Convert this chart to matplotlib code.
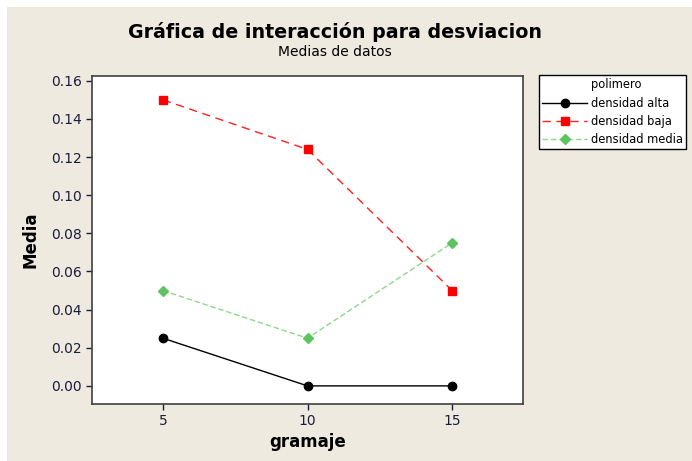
import numpy as np
import matplotlib.pyplot as plt
from matplotlib.patches import Rectangle
from matplotlib.lines import Line2D

gramaje = [5, 10, 15]
alta = [0.025, 0.0, 0.0]
baja = [0.150, 0.124, 0.050]
media = [0.050, 0.025, 0.075]
yticks = [0.00, 0.02, 0.04, 0.06, 0.08, 0.10, 0.12, 0.14, 0.16]

W, H = 692, 461
bg = '#eeeae0'
fig = plt.figure(figsize=(W/100., H/100.), dpi=100, facecolor='white')
fig.patches.append(Rectangle((7./W, -0.1), 2, (H-7.)/H + 0.1, transform=fig.transFigure,
                             facecolor=bg, edgecolor='none', zorder=-10))

ax = fig.add_axes([92./W, 1-404./H, (523-92.)/W, (404-76.)/H])
ax.plot(gramaje, alta, color='black', lw=1, marker='o', ms=6, label='densidad alta')
ax.plot(gramaje, baja, color='#ff2020', lw=1, ls=(0, (6, 4)), marker='s', ms=6,
        mfc='red', mec='red', label='densidad baja')
ax.plot(gramaje, media, color='#8fd68f', lw=1, ls=(0, (4, 2)), marker='D', ms=5.5,
        mfc='#5fc45f', mec='#5fc45f', label='densidad media')

ax.set_xlim(2.55, 17.45)
ax.set_ylim(-0.0095, 0.1625)
ax.set_xticks(gramaje)
ax.set_yticks(yticks)
ax.set_yticklabels(['%.2f' % v for v in yticks])
ax.tick_params(labelsize=10, colors='#1c1c3c', length=4, width=1)
for s in ax.spines.values():
    s.set_linewidth(1.2)
    s.set_color('#404040')
ax.set_xlabel('gramaje', fontsize=12, fontweight='bold', labelpad=3)
ax.set_ylabel('Media', fontsize=12, fontweight='bold', labelpad=8)

fig.text(335./W, 1-32./H, 'Gráfica de interacción para desviacion', ha='center', va='center',
         fontsize=13.7, fontweight='bold')
fig.text(335./W, 1-52./H, 'Medias de datos', ha='center', va='center', fontsize=10)

# legend title as a blank entry so it lines up with the labels
titulo = Line2D([], [], color='none', label='polimero')
leg = fig.legend(handles=[titulo] + ax.get_lines(), loc='upper left',
                 bbox_to_anchor=(539./W, 1-75./H), fontsize=8.3,
                 frameon=True, fancybox=False, edgecolor='black', handlelength=3.9,
                 borderaxespad=0, labelspacing=0.45, borderpad=0.3, handletextpad=0.3,
                 framealpha=1)
leg.get_frame().set_linewidth(1)

fig.savefig('out.png', dpi=100, facecolor=fig.get_facecolor())
